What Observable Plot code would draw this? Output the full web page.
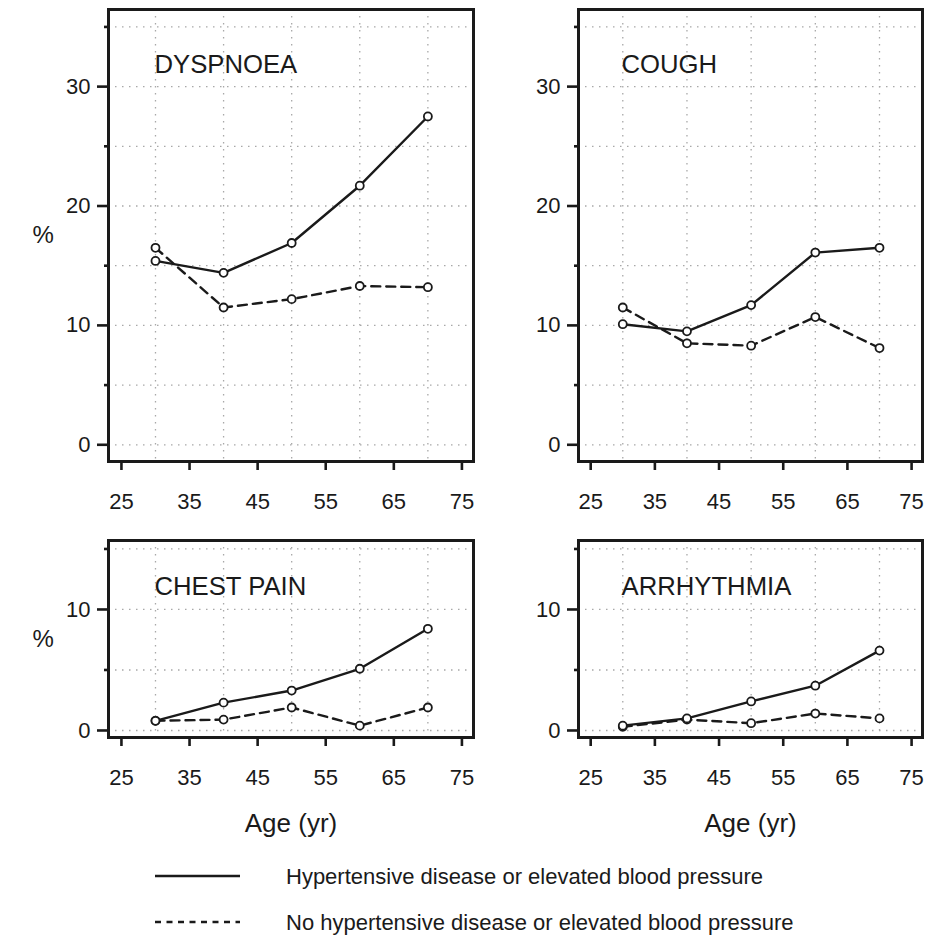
<!DOCTYPE html>
<html>
<head>
<meta charset="utf-8">
<script src="https://cdn.jsdelivr.net/npm/d3@7"></script>
<script src="https://cdn.jsdelivr.net/npm/@observablehq/plot@0.6"></script>
<style>
  html, body { margin: 0; padding: 0; background: #fff; }
  #wrap { position: relative; width: 925px; height: 935px; overflow: hidden; font-family: "Liberation Sans", Arial, sans-serif; }
  #wrap svg.plotpanel { position: absolute; }
</style>
</head>
<body>
<div id="wrap"></div>
<script>
// ---- data ----
const ages = [30, 40, 50, 60, 70];
const xTicks = [25, 35, 45, 55, 65, 75];

const dyspnoeaHyp = [15.4, 14.4, 16.9, 21.7, 27.5];
const dyspnoeaNo  = [16.5, 11.5, 12.2, 13.3, 13.2];
const coughHyp    = [10.1, 9.5, 11.7, 16.1, 16.5];
const coughNo     = [11.5, 8.5, 8.3, 10.7, 8.1];
const chestHyp    = [0.8, 2.3, 3.3, 5.1, 8.4];
const chestNo     = [0.8, 0.9, 1.9, 0.4, 1.9];
const arrhHyp     = [0.4, 1.0, 2.4, 3.7, 6.6];
const arrhNo      = [0.3, 0.9, 0.6, 1.4, 1.0];

const topMajor = [0, 10, 20, 30];
const topMinor = [5, 15, 25, 35];
const topGrid  = [0, 5, 10, 15, 20, 25, 30, 35];
const botMajor = [0, 10];
const botMinor = [5, 15];
const botGrid  = [0, 5, 10, 15];

const legendLabels = [
  "Hypertensive disease or elevated blood pressure",
  "No hypertensive disease or elevated blood pressure"
];

const FONT = "'Liberation Sans', Arial, sans-serif";
const INK = "#1a1a1a";
const wrap = document.getElementById("wrap");

function panel(o) {
  const rows = ages.map((a, i) => ({age: a, hyp: o.hyp[i], no: o.no[i]}));
  const marks = [
    Plot.gridY({ticks: o.grid, stroke: "#a8a8a8", strokeOpacity: 1, strokeWidth: 1.3, strokeDasharray: "1.5,5.5"}),
    Plot.gridX({ticks: ages, stroke: "#a8a8a8", strokeOpacity: 1, strokeWidth: 1.3, strokeDasharray: "1.5,5.5"}),
    Plot.line(rows, {x: "age", y: "no", stroke: INK, strokeWidth: 2.4, strokeDasharray: "9,6"}),
    Plot.line(rows, {x: "age", y: "hyp", stroke: INK, strokeWidth: 2.4}),
    Plot.dot(rows, {x: "age", y: "no", r: 4, fill: "white", stroke: INK, strokeWidth: 1.8}),
    Plot.dot(rows, {x: "age", y: "hyp", r: 4, fill: "white", stroke: INK, strokeWidth: 1.8}),
    Plot.frame({stroke: INK, strokeWidth: 3}),
    Plot.axisY({ticks: o.major, tickSize: 11, tickPadding: 7, fontSize: 22, stroke: INK, strokeWidth: 2.6, fill: INK, label: null, tickFormat: d => String(d)}),
    Plot.axisY({ticks: o.minor, tickSize: 4, stroke: INK, strokeWidth: 2.6, label: null, tickFormat: () => ""}),
    Plot.axisX({ticks: xTicks, tickSize: 9, tickPadding: 23, fontSize: 22, stroke: INK, strokeWidth: 2.6, fill: INK, label: null, tickFormat: d => String(d)}),
    Plot.text([o.title], {text: d => d, frameAnchor: "top-left", dx: o.titleDx, dy: o.titleDy, textAnchor: "start", lineAnchor: "middle", fontSize: 25.7, fill: INK})
  ];
  if (o.pct) marks.push(Plot.text(["%"], {text: d => d, frameAnchor: "left", dx: -76, lineAnchor: "middle", fontSize: 24, fill: INK}));
  if (o.age) marks.push(Plot.text(["Age (yr)"], {text: d => d, frameAnchor: "bottom", dy: 86, lineAnchor: "middle", fontSize: 26, fill: INK}));
  const svg = Plot.plot({
    width: o.width, height: o.height,
    marginLeft: o.ml, marginRight: o.mr, marginTop: o.mt, marginBottom: o.mb,
    x: {domain: [23.1, 76.7], label: null},
    y: {domain: o.yDomain, label: null},
    style: {fontFamily: FONT, fontSize: "22px", color: INK, background: "transparent", overflow: "visible"},
    marks
  });
  svg.classList.add("plotpanel");
  svg.style.left = o.left + "px";
  svg.style.top = o.top + "px";
  wrap.appendChild(svg);
}

const topDomain = [-1.4, 36.46];
const botDomain = [-0.58, 15.7];

panel({hyp: dyspnoeaHyp, no: dyspnoeaNo, title: "DYSPNOEA", major: topMajor, minor: topMinor, grid: topGrid, yDomain: topDomain,
  left: 0, top: 0, width: 480, height: 520, ml: 108, mr: 7, mt: 9, mb: 59, titleDx: 46, titleDy: 55.5, pct: true, age: false});
panel({hyp: coughHyp, no: coughNo, title: "COUGH", major: topMajor, minor: topMinor, grid: topGrid, yDomain: topDomain,
  left: 480, top: 0, width: 445, height: 520, ml: 98, mr: 3, mt: 9, mb: 59, titleDx: 43, titleDy: 55.5, pct: false, age: false});
panel({hyp: chestHyp, no: chestNo, title: "CHEST PAIN", major: botMajor, minor: botMinor, grid: botGrid, yDomain: botDomain,
  left: 0, top: 530, width: 480, height: 315, ml: 108, mr: 7, mt: 10, mb: 108, titleDx: 46, titleDy: 46, pct: true, age: true});
panel({hyp: arrhHyp, no: arrhNo, title: "ARRHYTHMIA", major: botMajor, minor: botMinor, grid: botGrid, yDomain: botDomain,
  left: 480, top: 530, width: 445, height: 315, ml: 98, mr: 3, mt: 10, mb: 108, titleDx: 43, titleDy: 46, pct: false, age: true});

// ---- legend (below the panels) ----
const NS = "http://www.w3.org/2000/svg";
const leg = document.createElementNS(NS, "svg");
leg.setAttribute("width", 925);
leg.setAttribute("height", 90);
leg.style.position = "absolute";
leg.style.left = "0px";
leg.style.top = "845px";
const legY = [31, 77];
const legDash = [null, "6,5.5"];
legendLabels.forEach((lab, i) => {
  const ln = document.createElementNS(NS, "line");
  ln.setAttribute("x1", 155); ln.setAttribute("x2", 240);
  ln.setAttribute("y1", legY[i]); ln.setAttribute("y2", legY[i]);
  ln.setAttribute("stroke", INK); ln.setAttribute("stroke-width", 2.4);
  if (legDash[i]) ln.setAttribute("stroke-dasharray", legDash[i]);
  leg.appendChild(ln);
  const t = document.createElementNS(NS, "text");
  t.setAttribute("x", 286); t.setAttribute("y", legY[i]);
  t.setAttribute("dy", "0.35em");
  t.setAttribute("font-family", FONT);
  t.setAttribute("font-size", 22);
  t.setAttribute("fill", INK);
  t.textContent = lab;
  leg.appendChild(t);
});
wrap.appendChild(leg);
</script>
</body>
</html>
